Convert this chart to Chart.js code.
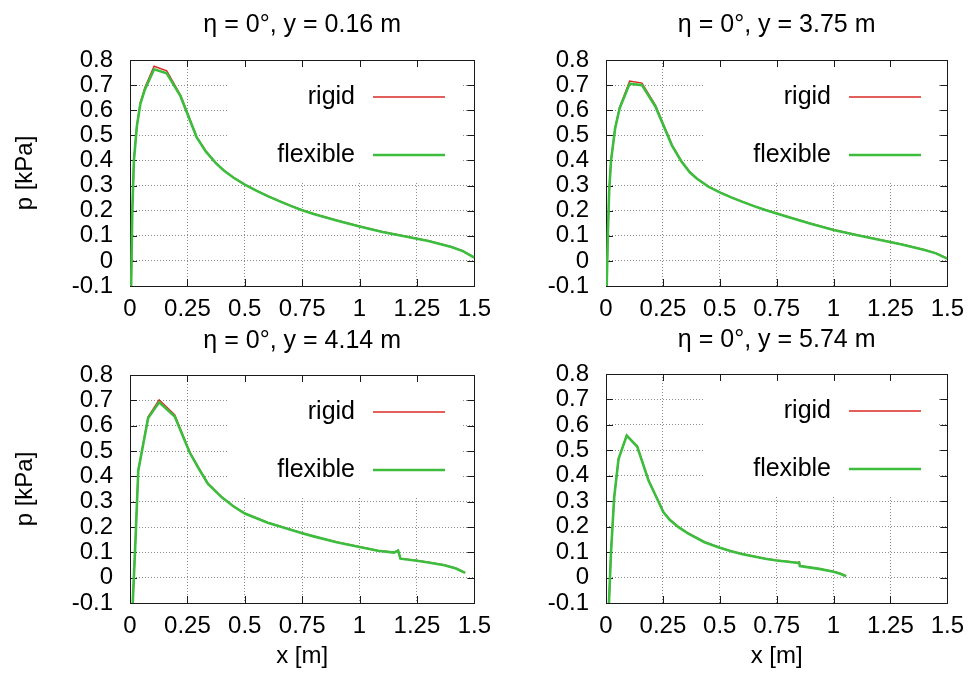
<!DOCTYPE html>
<html>
<head>
<meta charset="utf-8">
<title>Pressure along x</title>
<script src="https://cdn.jsdelivr.net/npm/chart.js@4.4.1/dist/chart.umd.min.js"></script>
<style>
  html, body { margin: 0; padding: 0; background: #fff; overflow: hidden; }
  .panel { position: absolute; }
</style>
</head>
<body>
<div class="panel" style="left:0;top:0;width:500px;height:320px"><canvas id="c1"></canvas></div>
<div class="panel" style="left:480px;top:0;width:493px;height:320px"><canvas id="c2"></canvas></div>
<div class="panel" style="left:0;top:320px;width:500px;height:353px"><canvas id="c3"></canvas></div>
<div class="panel" style="left:480px;top:320px;width:493px;height:353px"><canvas id="c4"></canvas></div>
<script>
const xTicks = [0, 0.25, 0.5, 0.75, 1, 1.25, 1.5];
const yTicks = [-0.1, 0, 0.1, 0.2, 0.3, 0.4, 0.5, 0.6, 0.7, 0.8];
const seriesNames = ["rigid", "flexible"];
const titles = ["η = 0°, y = 0.16 m", "η = 0°, y = 3.75 m", "η = 0°, y = 4.14 m", "η = 0°, y = 5.74 m"];

// y = 0.16 m
const x016 = [0.005, 0.01, 0.017, 0.03, 0.045, 0.065, 0.105, 0.16, 0.22, 0.29, 0.33, 0.375, 0.41, 0.45, 0.5, 0.55, 0.6, 0.65, 0.7, 0.75, 0.8, 0.9, 1.0, 1.1, 1.2, 1.3, 1.4, 1.45, 1.5];
const rigid016 = [-0.1, 0.2, 0.4, 0.54, 0.63, 0.69, 0.775, 0.757, 0.66, 0.495, 0.438, 0.389, 0.36, 0.333, 0.305, 0.281, 0.259, 0.239, 0.22, 0.203, 0.188, 0.162, 0.138, 0.116, 0.098, 0.08, 0.056, 0.04, 0.014];
const flex016 = [-0.1, 0.2, 0.4, 0.537, 0.625, 0.683, 0.763, 0.747, 0.656, 0.493, 0.436, 0.388, 0.359, 0.332, 0.304, 0.28, 0.258, 0.238, 0.219, 0.202, 0.187, 0.161, 0.137, 0.115, 0.097, 0.079, 0.055, 0.039, 0.013];

// y = 3.75 m
const x375 = [0.003, 0.008, 0.014, 0.022, 0.04, 0.06, 0.104, 0.158, 0.217, 0.29, 0.33, 0.368, 0.4, 0.45, 0.5, 0.55, 0.6, 0.65, 0.7, 0.75, 0.8, 0.9, 1.0, 1.1, 1.2, 1.3, 1.4, 1.45, 1.5];
const rigid375 = [-0.1, 0.1, 0.28, 0.4, 0.53, 0.612, 0.716, 0.708, 0.62, 0.462, 0.4, 0.355, 0.328, 0.297, 0.274, 0.254, 0.236, 0.219, 0.204, 0.19, 0.176, 0.149, 0.124, 0.104, 0.085, 0.066, 0.044, 0.031, 0.01];
const flex375 = [-0.1, 0.1, 0.28, 0.398, 0.527, 0.608, 0.706, 0.7, 0.615, 0.459, 0.398, 0.353, 0.327, 0.296, 0.273, 0.253, 0.235, 0.218, 0.203, 0.189, 0.175, 0.148, 0.123, 0.103, 0.084, 0.065, 0.043, 0.03, 0.009];

// y = 4.14 m
const x414 = [0.012, 0.024, 0.036, 0.079, 0.127, 0.195, 0.26, 0.3, 0.339, 0.4, 0.45, 0.5, 0.6, 0.7, 0.75, 0.8, 0.9, 1.0, 1.08, 1.15, 1.168, 1.178, 1.25, 1.3, 1.37, 1.42, 1.46];
const rigid414 = [-0.1, 0.15, 0.425, 0.635, 0.702, 0.642, 0.497, 0.432, 0.373, 0.318, 0.283, 0.254, 0.218, 0.19, 0.176, 0.164, 0.141, 0.122, 0.107, 0.1, 0.108, 0.076, 0.068, 0.061, 0.05, 0.037, 0.02];
const flex414 = [-0.1, 0.15, 0.422, 0.63, 0.692, 0.636, 0.494, 0.43, 0.371, 0.317, 0.282, 0.253, 0.217, 0.189, 0.175, 0.163, 0.14, 0.121, 0.106, 0.099, 0.107, 0.075, 0.067, 0.06, 0.049, 0.036, 0.019];

// y = 5.74 m
const x574 = [0.013, 0.022, 0.036, 0.055, 0.091, 0.137, 0.187, 0.252, 0.28, 0.317, 0.36, 0.433, 0.5, 0.55, 0.6, 0.65, 0.7, 0.75, 0.8, 0.845, 0.848, 0.852, 0.9, 0.937, 1.0, 1.03, 1.055];
const rigid574 = [-0.1, 0.1, 0.316, 0.467, 0.56, 0.516, 0.382, 0.258, 0.228, 0.2, 0.175, 0.14, 0.118, 0.104, 0.093, 0.084, 0.075, 0.068, 0.063, 0.058, 0.064, 0.046, 0.04, 0.035, 0.024, 0.016, 0.006];
const flex574 = [-0.1, 0.1, 0.315, 0.466, 0.558, 0.515, 0.381, 0.257, 0.227, 0.199, 0.174, 0.139, 0.117, 0.103, 0.092, 0.083, 0.074, 0.067, 0.062, 0.057, 0.063, 0.045, 0.039, 0.034, 0.023, 0.015, 0.005];

const FONT = "'Liberation Sans', Arial, Helvetica, sans-serif";
const RED = "#d82a24";
const GREEN = "#3dbd3d";

const panels = [
  { id: "c1", title: titles[0], xs: x016, rigid: rigid016, flex: flex016, yAxisW: 130, xAxisH: 34, titlePad: { top: 10.3, bottom: 19.7 }, yLabel: true, xLabel: false },
  { id: "c2", title: titles[1], xs: x375, rigid: rigid375, flex: flex375, yAxisW: 126, xAxisH: 34, titlePad: { top: 10.3, bottom: 19.7 }, yLabel: false, xLabel: false },
  { id: "c3", title: titles[2], xs: x414, rigid: rigid414, flex: flex414, yAxisW: 130, xAxisH: 70, titlePad: { top: 5.8, bottom: 19.2 }, yLabel: true, xLabel: true },
  { id: "c4", title: titles[3], xs: x574, rigid: rigid574, flex: flex574, yAxisW: 126, xAxisH: 70, titlePad: { top: 5.0, bottom: 19.0 }, yLabel: false, xLabel: true }
];

const toPoints = (xs, ys) => xs.map((x, i) => ({ x, y: ys[i] }));
const fmt = v => String(Math.round(v * 100) / 100);

// gnuplot-ish frame: opaque key box, inward ticks, border, key entries
const gnuFrame = {
  id: "gnuFrame",
  beforeDatasetsDraw(chart) {
    const { ctx, chartArea: a, scales } = chart;
    ctx.save();
    ctx.fillStyle = "#fff";
    ctx.fillRect(a.left + 98, a.top + 1, 235, 122);

    ctx.strokeStyle = "#1a1a1a";
    ctx.lineWidth = 1;
    ctx.beginPath();
    xTicks.forEach(v => {
      const px = Math.round(scales.x.getPixelForValue(v)) + 0.5;
      ctx.moveTo(px, a.top); ctx.lineTo(px, a.top + 7);
      ctx.moveTo(px, a.bottom); ctx.lineTo(px, a.bottom - 7);
    });
    yTicks.forEach(v => {
      const py = Math.round(scales.y.getPixelForValue(v)) + 0.5;
      ctx.moveTo(a.left, py); ctx.lineTo(a.left + 7, py);
      ctx.moveTo(a.right, py); ctx.lineTo(a.right - 7, py);
    });
    ctx.stroke();
    ctx.strokeRect(Math.round(a.left) + 0.5, Math.round(a.top) + 0.5,
      Math.round(a.right - a.left), Math.round(a.bottom - a.top));
    ctx.restore();
  },
  afterDatasetsDraw(chart) {
    const { ctx, chartArea: a } = chart;
    ctx.save();
    ctx.font = "25px " + FONT;
    ctx.fillStyle = "#000";
    ctx.textAlign = "right";
    ctx.textBaseline = "alphabetic";
    chart.data.datasets.forEach((ds, i) => {
      const y = a.top + 37 + i * 58;
      ctx.fillText(ds.label, a.left + 225, y + 7);
      ctx.strokeStyle = ds.borderColor;
      ctx.lineWidth = ds.borderWidth;
      ctx.beginPath();
      ctx.moveTo(a.left + 243, y);
      ctx.lineTo(a.left + 315, y);
      ctx.stroke();
    });
    ctx.restore();
  }
};

function buildChart(p) {
  const ctx = document.getElementById(p.id);
  return new Chart(ctx, {
    type: "line",
    data: {
      datasets: [
        {
          label: seriesNames[0],
          data: toPoints(p.xs, p.rigid),
          borderColor: RED,
          borderWidth: 1.5,
          pointRadius: 0,
          tension: 0,
          order: 2
        },
        {
          label: seriesNames[1],
          data: toPoints(p.xs, p.flex),
          borderColor: GREEN,
          borderWidth: 2.6,
          pointRadius: 0,
          tension: 0,
          order: 1
        }
      ]
    },
    options: {
      responsive: true,
      maintainAspectRatio: false,
      animation: false,
      events: [],
      layout: { padding: { left: 0, right: 20, top: 0, bottom: 0 } },
      plugins: {
        legend: { display: false },
        tooltip: { enabled: false },
        title: {
          display: true,
          text: p.title,
          fullSize: false,
          color: "#000",
          font: { family: FONT, size: 25, weight: "normal", lineHeight: 1.2 },
          padding: p.titlePad
        }
      },
      scales: {
        x: {
          type: "linear",
          min: 0,
          max: 1.5,
          afterBuildTicks: s => { s.ticks = xTicks.map(v => ({ value: v })); },
          afterFit: s => { s.height = p.xAxisH; },
          ticks: {
            color: "#000",
            padding: 9,
            maxRotation: 0,
            autoSkip: false,
            font: { family: FONT, size: 24 },
            callback: fmt
          },
          grid: { color: "#8c8c8c", lineWidth: 1, drawTicks: false },
          border: { display: false, dash: [1, 2] },
          title: {
            display: p.xLabel,
            text: "x [m]",
            color: "#000",
            font: { family: FONT, size: 24, lineHeight: 1.2 },
            padding: { top: 0, bottom: 2.6 }
          }
        },
        y: {
          min: -0.1,
          max: 0.8,
          afterBuildTicks: s => { s.ticks = yTicks.map(v => ({ value: v })); },
          afterFit: s => { s.width = p.yAxisW; },
          ticks: {
            color: "#000",
            padding: 17,
            autoSkip: false,
            font: { family: FONT, size: 24 },
            callback: fmt
          },
          grid: { color: "#8c8c8c", lineWidth: 1, drawTicks: false },
          border: { display: false, dash: [1, 2] },
          title: {
            display: p.yLabel,
            text: "p [kPa]",
            color: "#000",
            font: { family: FONT, size: 24, lineHeight: 1.2 },
            padding: { top: 10.6, bottom: 0 }
          }
        }
      }
    },
    plugins: [gnuFrame]
  });
}

document.addEventListener("DOMContentLoaded", () => {
  panels.forEach(buildChart);
});
</script>
</body>
</html>
